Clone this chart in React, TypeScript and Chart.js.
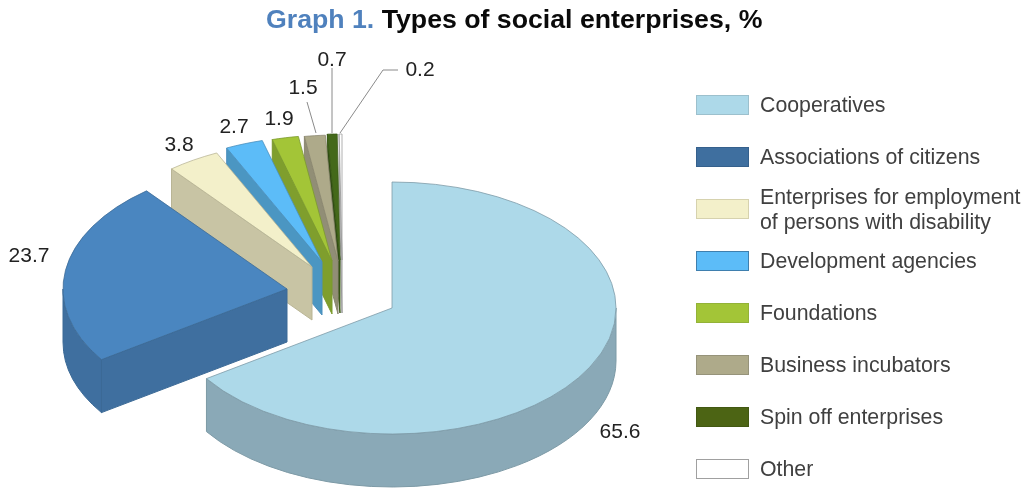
import React, { useEffect, useRef } from "react";
import { Chart, registerables } from "chart.js";

Chart.register(...registerables);

const sliceLabels: (string | string[])[] = [
  "Cooperatives",
  "Associations of citizens",
  ["Enterprises for employment", "of persons with disability"],
  "Development agencies",
  "Foundations",
  "Business incubators",
  "Spin off enterprises",
  "Other",
];
const sliceValues = [65.6, 23.7, 3.8, 2.7, 1.9, 1.5, 0.7, 0.2];
const topColors = ["#add9e9", "#4a86c0", "#f3f0ca", "#5cbcf8", "#a3c537", "#aeaa8a", "#44691a", "#ffffff"];
const wallColors = ["#8aa9b7", "#3f6f9f", "#c8c4a4", "#4b96c2", "#7f9e2d", "#918e76", "#2e4a12", "#e6e6e6"];
const edgeColors = ["#7d9aa6", "#3c6a96", "#b9b595", "#4b8fbd", "#7b9a2e", "#8a8770", "#3a5a16", "#9a9a9a"];
const legendFills = ["#add9e9", "#3f6f9f", "#f3f0ca", "#5cbcf8", "#a3c537", "#aeaa8a", "#4c6414", "#ffffff"];
const legendBorders = ["#9cc0cd", "#35608c", "#d6d2ae", "#3f7fae", "#93b238", "#96937a", "#425812", "#a0a0a0"];

// Explosion of each slice from the pie centre, in screen pixels.
const shiftX = [0, -105, -80, -70, -60, -54, -52, -50];
const shiftY = [0, -19, -41, -46, -47, -47, -48, -48];

const legendSwatchY = [105, 157, 209, 261, 313, 365, 417, 469];
const titleLead = "Graph 1.";
const titleRest = " Types of social enterprises, %";

const valueLabelX = [620, 29, 179, 234, 279, 303, 332, 420];
const valueLabelY = [432, 256, 145, 127, 119, 88, 60, 70];
const leaderLines: number[][][] = [
  [[307, 102], [316, 133]],
  [[332, 68], [332, 133]],
  [[340, 133], [383, 70], [398, 70]],
];

const TILT = 0.5625;
const DEPTH = 53;
const FONT = '"Liberation Sans", Arial, sans-serif';

const pie3d = {
  id: "pie3d",
  afterDatasetsUpdate(chart: any) {
    const { chartArea } = chart;
    const cx = (chartArea.left + chartArea.right) / 2;
    const cy = (chartArea.top + chartArea.bottom) / 2;
    chart.getDatasetMeta(0).data.forEach((arc: any, i: number) => {
      arc.x = cx + shiftX[i];
      arc.y = cy + shiftY[i] / TILT;
    });
  },
  beforeDatasetsDraw(chart: any) {
    const { ctx, chartArea } = chart;
    const cy = (chartArea.top + chartArea.bottom) / 2;
    const arcs = chart.getDatasetMeta(0).data;
    for (let i = arcs.length - 1; i >= 0; i--) {
      const arc = arcs[i];
      const a0 = arc.startAngle;
      const a1 = arc.endAngle;
      const R = arc.outerRadius;
      const sx = arc.x;
      const sy = cy + (arc.y - cy) * TILT;
      const px = (a: number) => sx + R * Math.cos(a);
      const py = (a: number) => sy + TILT * R * Math.sin(a);
      ctx.save();
      ctx.fillStyle = wallColors[i];
      ctx.strokeStyle = edgeColors[i];
      ctx.lineWidth = 1;
      ctx.lineJoin = "round";
      const face = (a: number) => {
        ctx.beginPath();
        ctx.moveTo(sx, sy);
        ctx.lineTo(px(a), py(a));
        ctx.lineTo(px(a), py(a) + DEPTH);
        ctx.lineTo(sx, sy + DEPTH);
        ctx.closePath();
        ctx.fill();
        ctx.stroke();
      };
      if (Math.cos(a0) < 0) face(a0);
      if (Math.cos(a1) > 0) face(a1);
      const s = Math.max(a0, 0);
      const e = Math.min(a1, Math.PI);
      if (e > s) {
        ctx.beginPath();
        ctx.ellipse(sx, sy, R, TILT * R, 0, s, e, false);
        ctx.ellipse(sx, sy + DEPTH, R, TILT * R, 0, e, s, true);
        ctx.closePath();
        ctx.fill();
        ctx.stroke();
      }
      ctx.restore();
      ctx.save();
      ctx.translate(0, cy);
      ctx.scale(1, TILT);
      ctx.translate(0, -cy);
      arc.draw(ctx);
      ctx.restore();
    }
    return false;
  },
  afterDraw(chart: any) {
    const { ctx } = chart;
    ctx.save();
    // Title
    ctx.textBaseline = "middle";
    ctx.textAlign = "left";
    ctx.font = `bold 26.7px ${FONT}`;
    const w1 = ctx.measureText(titleLead).width;
    ctx.fillStyle = "#4f81bd";
    ctx.fillText(titleLead, 266, 21);
    ctx.fillStyle = "#0a0a0a";
    ctx.fillText(titleRest, 266 + w1, 21);

    // Leader lines
    ctx.strokeStyle = "#8a8a8a";
    ctx.lineWidth = 1;
    leaderLines.forEach((line) => {
      ctx.beginPath();
      line.forEach(([x, y], j) => (j ? ctx.lineTo(x, y) : ctx.moveTo(x, y)));
      ctx.stroke();
    });

    // Value labels
    ctx.font = `21px ${FONT}`;
    ctx.fillStyle = "#222222";
    ctx.textAlign = "center";
    sliceValues.forEach((v, i) => {
      ctx.fillText(v.toFixed(1), valueLabelX[i], valueLabelY[i]);
    });

    // Legend
    ctx.textAlign = "left";
    ctx.font = `21.3px ${FONT}`;
    sliceLabels.forEach((label, i) => {
      const y = legendSwatchY[i];
      ctx.fillStyle = legendFills[i];
      ctx.fillRect(696.5, y - 9.5, 52, 19);
      ctx.strokeStyle = legendBorders[i];
      ctx.lineWidth = 1;
      ctx.strokeRect(696.5, y - 9.5, 52, 19);
      ctx.fillStyle = "#404040";
      if (Array.isArray(label)) {
        ctx.fillText(label[0], 760, y - 11);
        ctx.fillText(label[1], 760, y + 14);
      } else {
        ctx.fillText(label, 760, y + 1);
      }
    });
    ctx.restore();
  },
};

export default function App() {
  const ref = useRef<HTMLCanvasElement>(null);
  useEffect(() => {
    const chart = new Chart(ref.current as HTMLCanvasElement, {
      type: "pie",
      data: {
        labels: sliceLabels as any,
        datasets: [
          {
            data: sliceValues,
            backgroundColor: topColors,
            borderColor: edgeColors,
            borderWidth: 1,
            radius: 224,
          } as any,
        ],
      },
      options: {
        responsive: false,
        animation: false,
        layout: { padding: { right: 246, top: 127, left: 0, bottom: 0 } },
        plugins: {
          legend: { display: false },
          title: { display: false },
          tooltip: { enabled: false },
        },
      },
      plugins: [pie3d as any],
    });
    return () => chart.destroy();
  }, []);
  return (
    <div style={{ position: "absolute", left: 0, top: 0, background: "#fff" }}>
      <canvas ref={ref} width={1030} height={489} style={{ display: "block" }} />
    </div>
  );
}
